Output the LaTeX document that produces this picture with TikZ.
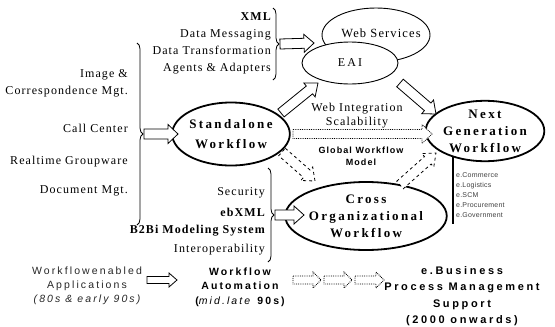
\documentclass[tikz,border=0pt]{standalone}
\usepackage{fontspec}
\setmainfont{Liberation Serif}
\newfontfamily\serifls[LetterSpace=9]{Liberation Serif}
\newfontfamily\serifwide[LetterSpace=18]{Liberation Serif}
\newfontfamily\sansls[LetterSpace=20]{Liberation Sans}
\newfontfamily\sanswide[LetterSpace=24]{Liberation Sans}
\newfontfamily\sansmid[LetterSpace=12]{Liberation Sans}
\newfontfamily\sanssmall[LetterSpace=3]{Liberation Sans}
\usetikzlibrary{calc,decorations.pathreplacing,shapes.geometric}
\tikzset{
  lbl/.style={font=\serifls\fontsize{12}{17}\selectfont, inner sep=0pt},
  listR/.style={lbl, align=right, anchor=east},
  ellthin/.style={ellipse, draw, fill=white, line width=0.9pt, inner sep=0pt},
  ellthick/.style={ellipse, draw, fill=white, line width=1.8pt, inner sep=0pt,
     font=\serifwide\bfseries\fontsize{13}{17}\selectfont, align=center},
  blk/.style={draw, fill=white, line width=0.8pt, line join=miter},
  brc/.style={decorate, decoration={brace, amplitude=6pt}, line width=0.8pt},
  btm/.style={font=\sansls\fontsize{10.5}{14}\selectfont, inner sep=0pt, align=center},
}
% block arrow: style, from, to, shaft half width, head half width, head length
\newcommand\barr[6][]{%
  \coordinate (barrH) at ($(#3)!#6!(#2)$);
  \draw[blk,#1] ($(#2)!#4!90:(#3)$) -- ($(barrH)!#4!90:(#3)$) -- ($(barrH)!#5!90:(#3)$)
     -- (#3) -- ($(barrH)!#5!-90:(#3)$) -- ($(barrH)!#4!-90:(#3)$) -- ($(#2)!#4!-90:(#3)$) -- cycle;
}
\begin{document}
\begin{tikzpicture}[x=1pt,y=-1pt]
\useasboundingbox (0,0) rectangle (555,327);

% ---- top list and EAI
\node[listR] (toplist) at (271,43) {\bfseries XML\\Data Messaging\\Data Transformation\\Agents \& Adapters};
\draw[brc] (273,8) -- (273,80) coordinate[pos=0.5] (tbmid);
\coordinate (tbtip) at ($(tbmid)+(7,0)$);
\node[ellthin, minimum width=108, minimum height=54] (ws) at (376,35) {};
\node[lbl, font=\serifls\fontsize{12.5}{15}\selectfont] (wst) at (381,33) {Web Services};
\node[ellthin, minimum width=96, minimum height=42, font=\serifwide\fontsize{12}{15}\selectfont] (eai) at (350,63) {EAI};
\coordinate (tbend) at (314,43);
\barr{tbtip}{tbend}{5pt}{9pt}{10pt}

% ---- left list and Standalone
\node[listR] (img) at (128,83) {Image \&\\Correspondence Mgt.};
\node[listR] (cc) at (128,128) {Call Center};
\node[listR] (rt) at (128,162) {Realtime Groupware};
\node[listR] (dm) at (128,191) {Document Mgt.};
\draw[brc] (137,43) -- (137,225) coordinate[pos=0.5] (lbmid);
\coordinate (lbtip) at ($(lbmid)+(7,0)$);
\node[ellthick, minimum width=98, minimum height=63] (sa) at (231,134) {Standalone\\[3pt]Workflow};
\coordinate (lbend) at (178,134);
\barr{lbtip}{lbend}{5pt}{9.5pt}{10pt}

% ---- Next generation
\node[ellthick, minimum width=92, minimum height=58] (ng) at (485,131) {Next\\Generation\\Workflow};
\coordinate (ngl) at (453,157);
\coordinate (ngb) at (453,224);
\draw[line width=1.4pt] (ngl) -- (ngb);
\node[font=\sanssmall\fontsize{7}{10.2}\selectfont, align=left, anchor=north west, inner sep=0pt, text=black!75] (nglist) at (456,172)
  {e.Commerce\\e.Logistics\\e.SCM\\e.Procurement\\e.Government};

% ---- Cross organizational
\node[listR] (sec) at (265,193) {Security};
\node[listR] (ebx) at (265,212) {\bfseries ebXML};
\node[listR] (b2b) at (265,231) {\bfseries B2Bi Modeling System};
\node[listR] (iop) at (265,250) {Interoperability};
\draw[brc] (268,168) -- (268,262) coordinate[pos=0.5] (cbmid);
\coordinate (cbtip) at ($(cbmid)+(7,0)$);
\node[ellthick, minimum width=122, minimum height=68] (co) at (366,216) {Cross\\Organizational\\Workflow};
\coordinate (cbend) at (304,215);
\barr{cbtip}{cbend}{5pt}{9pt}{10pt}

% ---- middle arrows and texts
\coordinate (a1s) at (281,113); \coordinate (a1e) at (318,83);
\barr{a1s}{a1e}{5pt}{9pt}{11pt}
\coordinate (a2s) at (400,83); \coordinate (a2e) at (436,114);
\barr{a2s}{a2e}{5pt}{9pt}{11pt}
\node[lbl, align=center, font=\serifls\fontsize{12}{14}\selectfont] (wi) at (357,116) {Web Integration\\Scalability};
\coordinate (a3s) at (293,134); \coordinate (a3e) at (432,134);
\barr[densely dotted]{a3s}{a3e}{4.5pt}{9.5pt}{10pt}
\node[font=\sansmid\bfseries\fontsize{9}{12}\selectfont, align=center, inner sep=0pt] (gwm) at (361,156) {Global Workflow\\Model};
\coordinate (a4s) at (282,152); \coordinate (a4e) at (315,181);
\barr[dashed]{a4s}{a4e}{5pt}{9pt}{11pt}
\coordinate (a5s) at (400,185); \coordinate (a5e) at (436,153);
\barr[dashed]{a5s}{a5e}{5pt}{9pt}{11pt}

% ---- bottom timeline
\node[btm, text=black!85] (wea) at (87,286) {Workflowenabled\\Applications\\\itshape (80s \& early 90s)};
\coordinate (b1s) at (147,280); \coordinate (b1e) at (177,280);
\barr{b1s}{b1e}{3.5pt}{7pt}{8pt}
\node[btm, font=\sansls\bfseries\fontsize{10.5}{14.5}\selectfont] (wa) at (240,287) {Workflow\\Automation\\(\textit{\mdseries mid.late} 90s)};
\coordinate (d1s) at (293,280); \coordinate (d1e) at (321,280);
\coordinate (d2s) at (324,280); \coordinate (d2e) at (352,280);
\coordinate (d3s) at (355,280); \coordinate (d3e) at (384,280);
\barr[densely dotted]{d1s}{d1e}{4pt}{8pt}{8pt}
\barr[densely dotted]{d2s}{d2e}{4pt}{8pt}{8pt}
\barr[densely dotted]{d3s}{d3e}{4pt}{8pt}{8pt}
\node[btm, font=\sanswide\bfseries\fontsize{11}{16.5}\selectfont] (eb) at (462,296) {e.Business\\Process Management\\Support\\(2000 onwards)};
\end{tikzpicture}
\end{document}
